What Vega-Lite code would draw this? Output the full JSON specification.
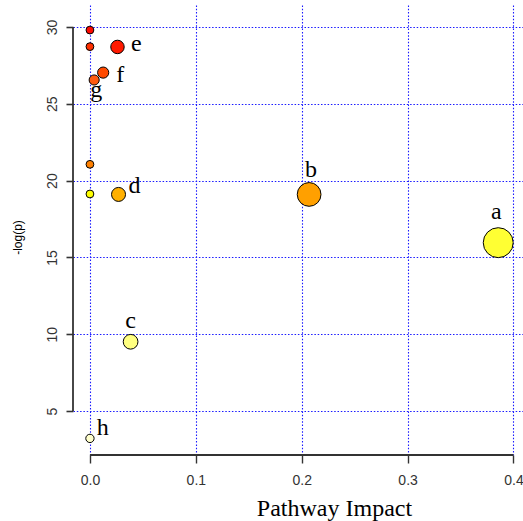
{
  "$schema": "https://vega.github.io/schema/vega-lite/v6.json",
  "width": 450,
  "height": 450,
  "autosize": {"type": "none"},
  "padding": {"left": 73, "top": 5, "right": 0, "bottom": 66},
  "background": "white",
  "config": {"view": {"stroke": null}},
  "datasets": {
    "pathways": [
      {"id": "p1", "label": "", "impact": 0.0, "logp": 29.8, "r": 4.4},
      {"id": "p2", "label": "", "impact": 0.0, "logp": 28.72, "r": 4.4},
      {"id": "e", "label": "e", "impact": 0.026, "logp": 28.7, "r": 7.6},
      {"id": "f", "label": "f", "impact": 0.0125, "logp": 27.03, "r": 6.3},
      {"id": "g", "label": "g", "impact": 0.004, "logp": 26.55, "r": 5.7},
      {"id": "p3", "label": "", "impact": 0.0, "logp": 21.06, "r": 4.4},
      {"id": "p4", "label": "", "impact": 0.0, "logp": 19.13, "r": 4.4},
      {"id": "d", "label": "d", "impact": 0.027, "logp": 19.1, "r": 7.9},
      {"id": "b", "label": "b", "impact": 0.207, "logp": 19.1, "r": 13.4},
      {"id": "a", "label": "a", "impact": 0.3856, "logp": 15.96, "r": 16.9},
      {"id": "c", "label": "c", "impact": 0.0384, "logp": 9.51, "r": 8.3},
      {"id": "h", "label": "h", "impact": 0.0, "logp": 3.22, "r": 4.7}
    ],
    "axislines": [
      {"axis": "x", "impact": 0.0, "impact2": 0.4, "logp": 2.14, "logp2": 2.14},
      {"axis": "y", "impact": -0.016, "impact2": -0.016, "logp": 5, "logp2": 30}
    ]
  },
  "data": {"name": "pathways"},
  "encoding": {
    "x": {
      "field": "impact", "type": "quantitative",
      "scale": {"domain": [-0.016, 0.409], "nice": false, "zero": false},
      "axis": {
        "title": "Pathway Impact",
        "values": [0, 0.1, 0.2, 0.3, 0.4],
        "format": ".1f",
        "domain": false,
        "grid": true, "gridColor": "#1a1aff", "gridDash": [1.5, 1.8], "gridWidth": 1.1,
        "tickColor": "#333333", "tickSize": 8, "tickWidth": 1.4,
        "labelFont": "Liberation Sans", "labelFontSize": 14, "labelColor": "#333333",
        "labelPadding": 10,
        "titleFont": "Liberation Serif", "titleFontSize": 24, "titleFontWeight": "normal", "titleColor": "#000000",
        "titleX": 261, "titleY": 60, "titleAlign": "center", "titleBaseline": "alphabetic"
      }
    },
    "y": {
      "field": "logp", "type": "quantitative",
      "scale": {"domain": [2.14, 31.43], "nice": false, "zero": false},
      "axis": {
        "title": "-log(p)",
        "values": [5, 10, 15, 20, 25, 30],
        "domain": false,
        "grid": true, "gridColor": "#1a1aff", "gridDash": [1.5, 1.8], "gridWidth": 1.1,
        "tickColor": "#333333", "tickSize": 7, "tickWidth": 1.6,
        "labelFont": "Liberation Sans", "labelFontSize": 14, "labelColor": "#333333",
        "labelAngle": -90, "labelAlign": "center", "labelBaseline": "middle", "labelPadding": 14,
        "titleFont": "Liberation Sans", "titleFontSize": 12, "titleFontWeight": "normal", "titleColor": "#000000",
        "titleAngle": -90, "titleX": -56, "titleY": 232, "titleAlign": "center", "titleBaseline": "middle"
      }
    }
  },
  "layer": [
    {
      "data": {"name": "axislines"},
      "mark": {"type": "rule", "color": "#333333", "strokeWidth": 1.8},
      "encoding": {
        "x2": {"field": "impact2"},
        "y2": {"field": "logp2"}
      }
    },
    {
      "mark": {"type": "circle", "stroke": "#000000", "strokeWidth": 1, "opacity": 1},
      "encoding": {
        "color": {
          "field": "id", "type": "nominal", "legend": null,
          "scale": {
            "domain": ["p1", "p2", "e", "f", "g", "p3", "p4", "d", "b", "a", "c", "h"],
            "range": ["#ff0a00", "#ff3000", "#ff1a00", "#ff4a00", "#ff5a10", "#ff8000", "#ffff00", "#ffb000", "#ffa000", "#ffff33", "#ffff80", "#ffffcc"]
          }
        },
        "size": {
          "field": "r", "type": "quantitative", "legend": null,
          "scale": {"type": "pow", "exponent": 2, "domain": [0, 20], "range": [0, 1256.6]}
        }
      }
    },
    {
      "transform": [{"filter": "datum.label == 'a'"}],
      "mark": {"type": "text", "font": "Liberation Serif", "fontSize": 24, "color": "#000000", "align": "center", "baseline": "alphabetic", "dx": -2, "dy": -24},
      "encoding": {"text": {"field": "label"}}
    },
    {
      "transform": [{"filter": "datum.label == 'b'"}],
      "mark": {"type": "text", "font": "Liberation Serif", "fontSize": 24, "color": "#000000", "align": "center", "baseline": "alphabetic", "dx": 2, "dy": -17.6},
      "encoding": {"text": {"field": "label"}}
    },
    {
      "transform": [{"filter": "datum.label == 'c'"}],
      "mark": {"type": "text", "font": "Liberation Serif", "fontSize": 24, "color": "#000000", "align": "center", "baseline": "alphabetic", "dx": 0, "dy": -14},
      "encoding": {"text": {"field": "label"}}
    },
    {
      "transform": [{"filter": "datum.label == 'd'"}],
      "mark": {"type": "text", "font": "Liberation Serif", "fontSize": 24, "color": "#000000", "align": "left", "baseline": "alphabetic", "dx": 10, "dy": -1},
      "encoding": {"text": {"field": "label"}}
    },
    {
      "transform": [{"filter": "datum.label == 'e'"}],
      "mark": {"type": "text", "font": "Liberation Serif", "fontSize": 24, "color": "#000000", "align": "left", "baseline": "alphabetic", "dx": 13.5, "dy": 4.4},
      "encoding": {"text": {"field": "label"}}
    },
    {
      "transform": [{"filter": "datum.label == 'f'"}],
      "mark": {"type": "text", "font": "Liberation Serif", "fontSize": 24, "color": "#000000", "align": "left", "baseline": "alphabetic", "dx": 13, "dy": 9},
      "encoding": {"text": {"field": "label"}}
    },
    {
      "transform": [{"filter": "datum.label == 'g'"}],
      "mark": {"type": "text", "font": "Liberation Serif", "fontSize": 24, "color": "#000000", "align": "center", "baseline": "alphabetic", "dx": 2, "dy": 16.7},
      "encoding": {"text": {"field": "label"}}
    },
    {
      "transform": [{"filter": "datum.label == 'h'"}],
      "mark": {"type": "text", "font": "Liberation Serif", "fontSize": 24, "color": "#000000", "align": "left", "baseline": "alphabetic", "dx": 6.7, "dy": -3.3},
      "encoding": {"text": {"field": "label"}}
    }
  ]
}
